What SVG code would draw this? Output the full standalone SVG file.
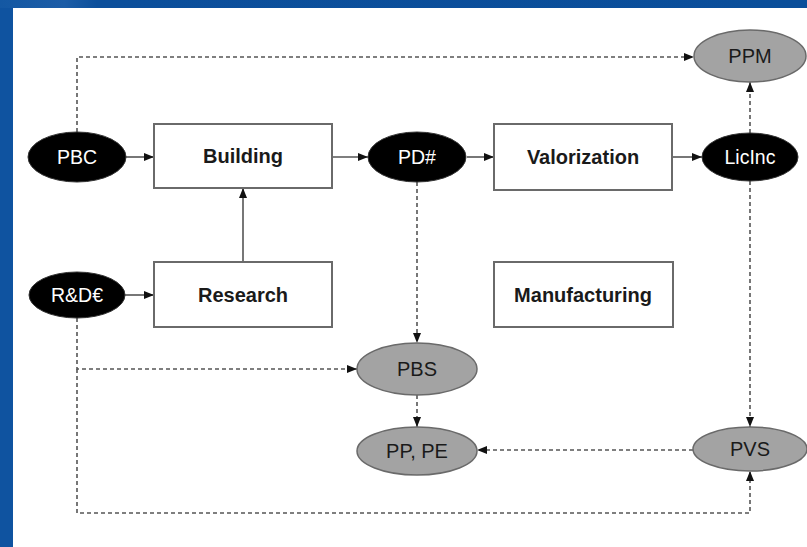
<svg xmlns="http://www.w3.org/2000/svg" width="807" height="547" viewBox="0 0 807 547">
  <defs>
    <linearGradient id="frameGrad" x1="0" y1="0" x2="1" y2="0">
      <stop offset="0" stop-color="#1458a3"/>
      <stop offset="0.08" stop-color="#1c5da7"/>
      <stop offset="0.12" stop-color="#0c4f9b"/>
      <stop offset="1" stop-color="#0a4e9a"/>
    </linearGradient>
    <marker id="arrow" viewBox="0 0 10 10" refX="10" refY="5" markerWidth="10" markerHeight="10" markerUnits="userSpaceOnUse" orient="auto">
      <path d="M0,1 L10,5 L0,9 Z" fill="#111"/>
    </marker>
  </defs>
  <style>
    .box { fill: #ffffff; stroke: #6a6a6a; stroke-width: 2; }
    .box-label { font-family: "Liberation Sans", Arial, sans-serif; font-weight: bold; font-size: 20px; fill: #1a1a1a; text-anchor: middle; }
    .dark { fill: #000000; stroke: #333333; stroke-width: 1; }
    .dark-label { font-family: "Liberation Sans", Arial, sans-serif; font-size: 19.5px; fill: #ffffff; text-anchor: middle; }
    .grey { fill: #a3a3a3; stroke: #6a6a6a; stroke-width: 1.5; }
    .grey-label { font-family: "Liberation Sans", Arial, sans-serif; font-size: 20px; fill: #1a1a1a; text-anchor: middle; }
    .solid { fill: none; stroke: #555555; stroke-width: 1.6; }
    .dashed { fill: none; stroke: #555555; stroke-width: 1.6; stroke-dasharray: 4 3; }
  </style>

  <!-- frame -->
  <rect x="0" y="0" width="807" height="547" fill="url(#frameGrad)"/>
  <rect x="0" y="8" width="13" height="539" fill="#0f53a0"/>
  <rect x="13" y="8" width="794" height="539" fill="#ffffff"/>

  <!-- connectors -->
  <g id="connectors">
    <line class="solid" x1="126" y1="157" x2="154" y2="157" marker-end="url(#arrow)"/>
    <line class="solid" x1="332" y1="157" x2="368" y2="157" marker-end="url(#arrow)"/>
    <line class="solid" x1="467" y1="157" x2="494" y2="157" marker-end="url(#arrow)"/>
    <line class="solid" x1="672" y1="157" x2="702" y2="157" marker-end="url(#arrow)"/>
    <line class="solid" x1="243" y1="262" x2="243" y2="188" marker-end="url(#arrow)"/>
    <line class="solid" x1="125" y1="295" x2="154" y2="295" marker-end="url(#arrow)"/>

    <polyline class="dashed" points="77,132 77,57 694,57" marker-end="url(#arrow)"/>
    <line class="dashed" x1="750" y1="133" x2="750" y2="82" marker-end="url(#arrow)"/>
    <line class="dashed" x1="750" y1="181" x2="750" y2="427" marker-end="url(#arrow)"/>
    <line class="dashed" x1="417" y1="182" x2="417" y2="343" marker-end="url(#arrow)"/>
    <polyline class="dashed" points="77,318 77,369 357,369" marker-end="url(#arrow)"/>
    <polyline class="dashed" points="77,369 77,513 750,513 750,471" marker-end="url(#arrow)"/>
    <line class="dashed" x1="417" y1="395" x2="417" y2="427" marker-end="url(#arrow)"/>
    <line class="dashed" x1="693" y1="450" x2="477" y2="450" marker-end="url(#arrow)"/>
  </g>

  <!-- process boxes -->
  <g id="building">
    <rect class="box" x="154" y="124" width="178" height="64"/>
    <text class="box-label" x="243" y="163">Building</text>
  </g>
  <g id="research">
    <rect class="box" x="154" y="262" width="178" height="65"/>
    <text class="box-label" x="243" y="302">Research</text>
  </g>
  <g id="valorization">
    <rect class="box" x="494" y="124" width="178" height="66"/>
    <text class="box-label" x="583" y="164">Valorization</text>
  </g>
  <g id="manufacturing">
    <rect class="box" x="494" y="262" width="179" height="65"/>
    <text class="box-label" x="583" y="302">Manufacturing</text>
  </g>

  <!-- black ellipses -->
  <g id="pbc">
    <ellipse class="dark" cx="77" cy="157" rx="49" ry="25"/>
    <text class="dark-label" x="77" y="164">PBC</text>
  </g>
  <g id="pd">
    <ellipse class="dark" cx="417" cy="157" rx="49" ry="25"/>
    <text class="dark-label" x="417" y="164">PD#</text>
  </g>
  <g id="licinc">
    <ellipse class="dark" cx="750" cy="157" rx="48" ry="24"/>
    <text class="dark-label" x="750" y="164">LicInc</text>
  </g>
  <g id="rd">
    <ellipse class="dark" cx="77" cy="295" rx="48" ry="23"/>
    <text class="dark-label" x="77" y="302">R&amp;D€</text>
  </g>

  <!-- grey ellipses -->
  <g id="ppm">
    <ellipse class="grey" cx="750" cy="56" rx="56" ry="26"/>
    <text class="grey-label" x="750" y="63">PPM</text>
  </g>
  <g id="pbs">
    <ellipse class="grey" cx="417" cy="369" rx="60" ry="26"/>
    <text class="grey-label" x="417" y="376">PBS</text>
  </g>
  <g id="pppe">
    <ellipse class="grey" cx="417" cy="451" rx="60" ry="24"/>
    <text class="grey-label" x="417" y="458">PP, PE</text>
  </g>
  <g id="pvs">
    <ellipse class="grey" cx="750" cy="449" rx="57" ry="22"/>
    <text class="grey-label" x="750" y="456">PVS</text>
  </g>
</svg>
